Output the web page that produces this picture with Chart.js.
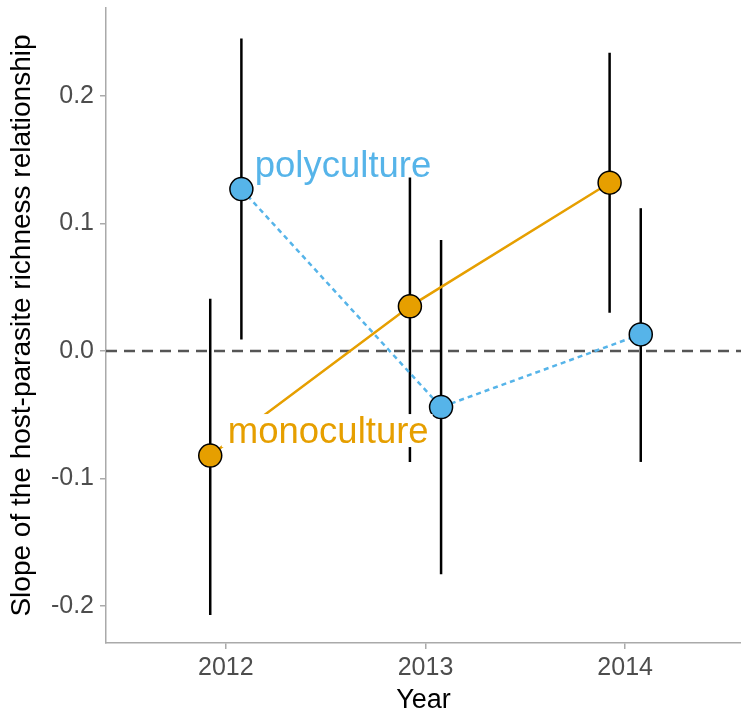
<!DOCTYPE html>
<html>
<head>
<meta charset="utf-8">
<script src="https://cdn.jsdelivr.net/npm/chart.js@4/dist/chart.umd.min.js"></script>
<style>
  html, body { margin: 0; padding: 0; background: #fff; }
  #wrap { width: 741px; height: 717px; }
</style>
</head>
<body>
<div id="wrap"><canvas id="chart"></canvas></div>
<script>
// ---------- DATA ----------
const years = [2012, 2013, 2014];
const dodge = 0.078;

const monoSlope = [-0.082, 0.035, 0.132];
const monoLow = [-0.207, -0.087, 0.030];
const monoHigh = [0.041, 0.136, 0.234];

const polySlope = [0.127, -0.044, 0.013];
const polyLow = [0.009, -0.175, -0.087];
const polyHigh = [0.245, 0.087, 0.112];

const xTicks = [2012, 2013, 2014];
const yTicks = [-0.2, -0.1, 0.0, 0.1, 0.2];

const MONO = "#E69F00";
const POLY = "#56B4E9";
const FONT = "'Liberation Sans', Arial, sans-serif";

// ---------- HELPERS ----------
function points(values, shift) {
  return years.map((yr, i) => ({ x: yr + shift, y: values[i] }));
}

const errorBars = {
  id: "errorBars",
  beforeDatasetsDraw(chart) {
    const { ctx, scales: { x, y }, chartArea } = chart;
    ctx.save();

    // zero reference line
    ctx.strokeStyle = "#555555";
    ctx.lineWidth = 2.5;
    ctx.setLineDash([11, 7]);
    ctx.beginPath();
    ctx.moveTo(chartArea.left, y.getPixelForValue(0));
    ctx.lineTo(chartArea.right, y.getPixelForValue(0));
    ctx.stroke();
    ctx.setLineDash([]);

    ctx.strokeStyle = "#000";
    ctx.lineWidth = 2.5;
    const draw = (shift, low, high) => {
      years.forEach((yr, i) => {
        const px = x.getPixelForValue(yr + shift);
        ctx.beginPath();
        ctx.moveTo(px, y.getPixelForValue(low[i]));
        ctx.lineTo(px, y.getPixelForValue(high[i]));
        ctx.stroke();
      });
    };
    draw(-dodge, monoLow, monoHigh);
    draw(dodge, polyLow, polyHigh);
    ctx.restore();
  },
  afterDatasetsDraw(chart) {
    const { ctx, scales: { x, y } } = chart;
    ctx.save();
    ctx.font = "36.5px " + FONT;
    ctx.textBaseline = "alphabetic";
    ctx.textAlign = "left";

    // monoculture label sits on a white box
    const mx = x.getPixelForValue(2012.01);
    const my = y.getPixelForValue(-0.0722);
    const mw = ctx.measureText("monoculture").width;
    ctx.fillStyle = "#fff";
    ctx.fillRect(mx - 6, my - 29, mw + 10, 33);
    ctx.fillStyle = MONO;
    ctx.fillText("monoculture", mx, my);

    ctx.fillStyle = POLY;
    ctx.fillText("polyculture", x.getPixelForValue(2012.145), y.getPixelForValue(0.1365));
    ctx.restore();
  },
};

// ---------- CHART ----------
new Chart(document.getElementById("chart").getContext("2d"), {
  type: "scatter",
  data: {
    datasets: [
      {
        label: "monoculture",
        data: points(monoSlope, -dodge),
        showLine: true,
        borderColor: MONO,
        borderWidth: 2.5,
        backgroundColor: MONO,
        pointBackgroundColor: MONO,
        pointBorderColor: "#000",
        pointBorderWidth: 1.5,
        pointRadius: 11.5,
      },
      {
        label: "polyculture",
        data: points(polySlope, dodge),
        showLine: true,
        borderColor: POLY,
        borderWidth: 2.5,
        borderDash: [5, 4],
        backgroundColor: POLY,
        pointBackgroundColor: POLY,
        pointBorderColor: "#000",
        pointBorderWidth: 1.5,
        pointRadius: 11.5,
      },
    ],
  },
  options: {
    responsive: true,
    maintainAspectRatio: false,
    animation: false,
    layout: { autoPadding: false, padding: { top: 8, right: 0, left: 0, bottom: 0 } },
    plugins: {
      legend: { display: false },
      tooltip: { enabled: false },
    },
    scales: {
      x: {
        type: "linear",
        min: 2011.4,
        max: 2014.58,
        afterBuildTicks: (s) => { s.ticks = xTicks.map((v) => ({ value: v })); },
        afterFit: (s) => { s.height = 74; s.paddingLeft = 0; s.paddingRight = 0; },
        border: { color: "#aaaaaa", width: 1.5 },
        grid: { drawOnChartArea: false, drawTicks: true, tickLength: 6, color: "#aaaaaa", lineWidth: 1.5 },
        ticks: {
          color: "#4d4d4d",
          font: { family: FONT, size: 25 },
          padding: 4,
          callback: (v) => String(v),
        },
        title: {
          display: true,
          text: "Year",
          color: "#000",
          font: { family: FONT, size: 27 },
          padding: { top: 0, bottom: 0 },
        },
      },
      y: {
        min: -0.229,
        max: 0.269,
        afterBuildTicks: (s) => { s.ticks = yTicks.map((v) => ({ value: v })); },
        afterFit: (s) => { s.width = 106; s.paddingTop = 0; s.paddingBottom = 0; },
        border: { color: "#aaaaaa", width: 1.5 },
        grid: { drawOnChartArea: false, drawTicks: true, tickLength: 6, color: "#aaaaaa", lineWidth: 1.5 },
        ticks: {
          color: "#4d4d4d",
          font: { family: FONT, size: 25 },
          padding: 6,
          callback: (v) => Number(v).toFixed(1),
        },
        title: {
          display: true,
          text: "Slope of the host-parasite richness relationship",
          color: "#000",
          font: { family: FONT, size: 28 },
          padding: { top: 5, bottom: 0 },
        },
      },
    },
  },
  plugins: [errorBars],
});
</script>
</body>
</html>
